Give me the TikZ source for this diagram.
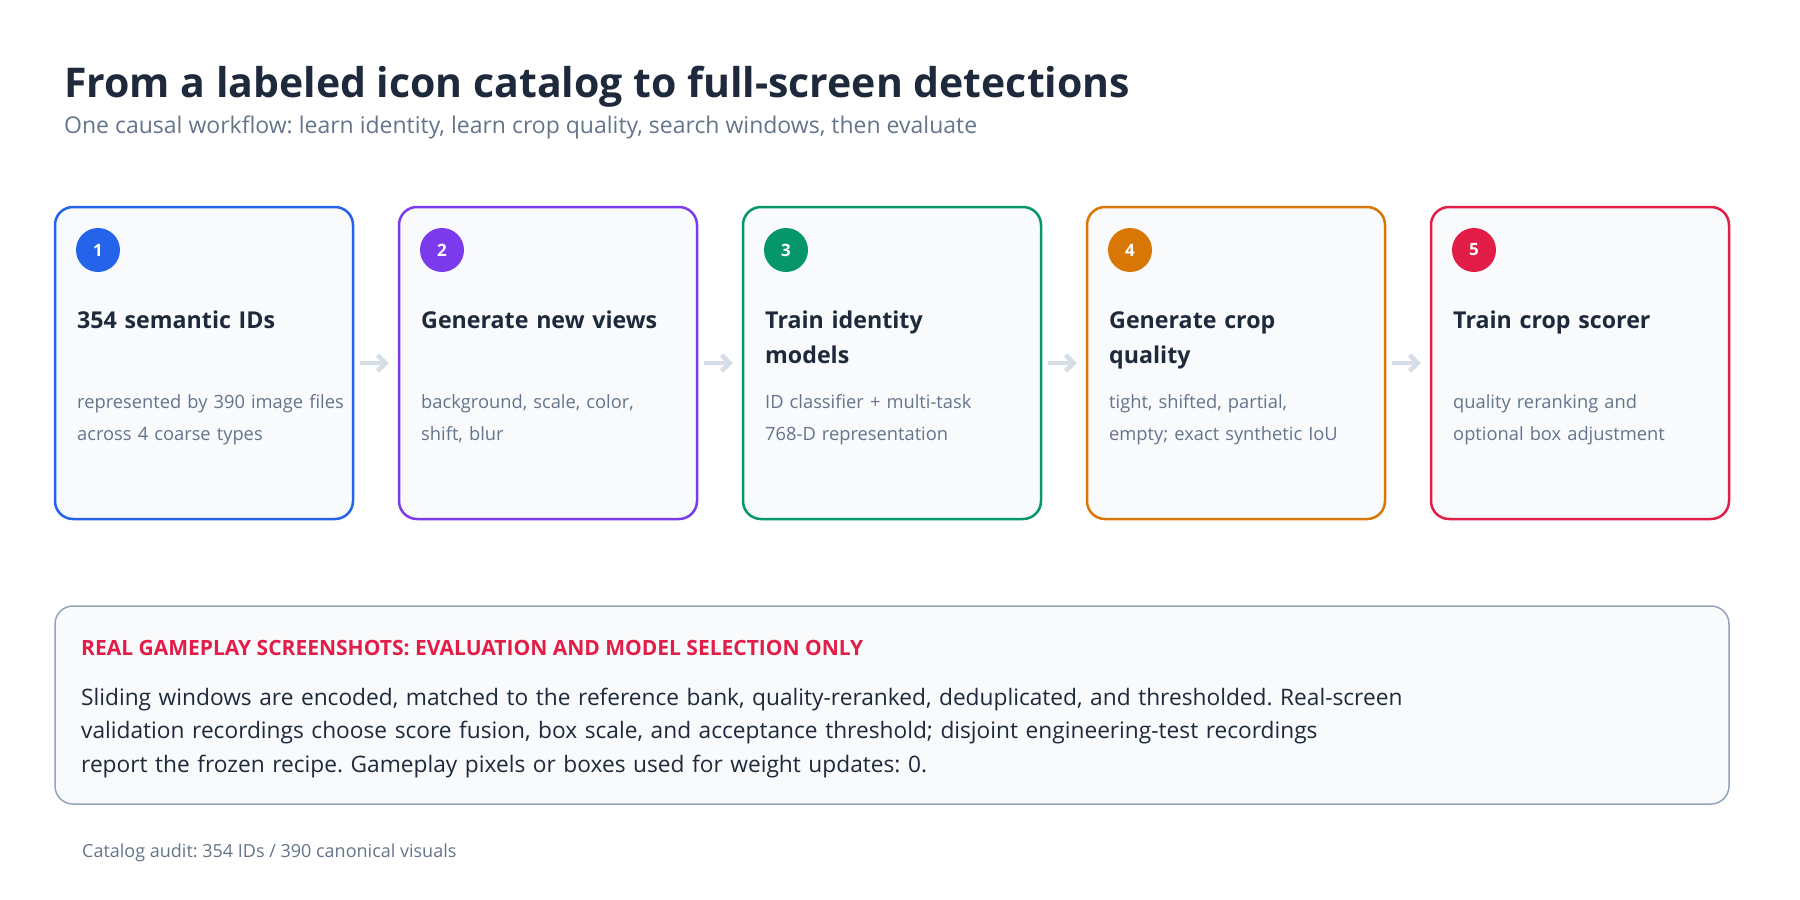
\documentclass[tikz,border=0pt]{standalone}
\usepackage{fontspec}
\setmainfont{Open Sans}
\usetikzlibrary{arrows.meta}
\frenchspacing

\definecolor{ink}{HTML}{1E293B}
\definecolor{slate}{HTML}{64748B}
\definecolor{cardbg}{HTML}{F8FAFC}
\definecolor{edgegray}{HTML}{94A3B8}
\definecolor{arrowgray}{HTML}{D5DDE6}
\definecolor{sblue}{HTML}{2563EB}
\definecolor{spurple}{HTML}{7C3AED}
\definecolor{sgreen}{HTML}{059669}
\definecolor{sorange}{HTML}{D97706}
\definecolor{sred}{HTML}{E11D48}

\tikzset{
	card/.style={draw, line width=2.5, fill=cardbg, rounded corners=18, minimum width=298, minimum height=312, inner sep=0},
	badge/.style={circle, minimum size=44, inner sep=0, text=white, font=\fontsize{17}{17}\selectfont\bfseries},
	cardtitle/.style={anchor=base west, inner sep=0, text=ink, align=left, text width=270pt, font=\fontsize{23.2}{35}\selectfont\bfseries},
	carddesc/.style={anchor=base west, inner sep=0, text=slate, align=left, text width=290pt, font=\fontsize{18.3}{32}\selectfont},
	flow/.style={draw=arrowgray, line width=4.5, -{Straight Barb[length=8, width=16]}, shorten <=6, shorten >=9},
}

\begin{document}
\begin{tikzpicture}[x=1pt, y=-1pt]
	\useasboundingbox (0,0) rectangle (1800,900);
	
	\node[anchor=base west, inner sep=0, text=ink, font=\fontsize{41}{41}\selectfont\bfseries] (title) at (64,97) {From a labeled icon catalog to full-screen detections};
	\node[anchor=base west, inner sep=0, text=slate, font=\fontsize{23}{23}\selectfont] (subtitle) at (64,133) {One causal workflow: learn identity, learn crop quality, search windows, then evaluate};
	
	% workflow cards
	\node[card, draw=sblue] (card1) at (204,363) {};
	\node[card, draw=spurple] (card2) at (548,363) {};
	\node[card, draw=sgreen] (card3) at (892,363) {};
	\node[card, draw=sorange] (card4) at (1236,363) {};
	\node[card, draw=sred] (card5) at (1580,363) {};
	
	\node[badge, fill=sblue] (num1) at (98,250) {1};
	\node[badge, fill=spurple] (num2) at (442,250) {2};
	\node[badge, fill=sgreen] (num3) at (786,250) {3};
	\node[badge, fill=sorange] (num4) at (1130,250) {4};
	\node[badge, fill=sred] (num5) at (1474,250) {5};
	
	\node[cardtitle] (head1) at (77,328) {354 semantic IDs};
	\node[cardtitle] (head2) at (421,328) {Generate new views};
	\node[cardtitle] (head3) at (765,328) {Train identity\\models};
	\node[cardtitle] (head4) at (1109,328) {Generate crop\\quality};
	\node[cardtitle] (head5) at (1453,328) {Train crop scorer};
	
	\node[carddesc] (desc1) at (77,408) {represented by 390 image files\\across 4 coarse types};
	\node[carddesc] (desc2) at (421,408) {background, scale, color,\\shift, blur};
	\node[carddesc] (desc3) at (765,408) {ID classifier + multi-task\\768-D representation};
	\node[carddesc] (desc4) at (1109,408) {tight, shifted, partial,\\empty; exact synthetic IoU};
	\node[carddesc] (desc5) at (1453,408) {quality reranking and\\optional box adjustment};
	
	\draw[flow] (card1) -- (card2);
	\draw[flow] (card2) -- (card3);
	\draw[flow] (card3) -- (card4);
	\draw[flow] (card4) -- (card5);
	
	% evaluation panel
	\node[draw=edgegray, line width=1.5, fill=cardbg, rounded corners=18, minimum width=1674, minimum height=198, inner sep=0] (evalbox) at (892,705) {};
	\node[anchor=base west, inner sep=0, text=sred, font=\fontsize{21}{21}\selectfont\bfseries] (evalhead) at (81,655) {REAL GAMEPLAY SCREENSHOTS: EVALUATION AND MODEL SELECTION ONLY};
	\node[anchor=base west, inner sep=0, text=ink, align=left, text width=1620pt, font=\fontsize{22.7}{33.5}\selectfont] (evaltext) at (81,705) {Sliding windows are encoded, matched to the reference bank, quality-reranked, deduplicated, and thresholded. Real-screen\\validation recordings choose score fusion, box scale, and acceptance threshold; disjoint engineering-test recordings\\report the frozen recipe. Gameplay pixels or boxes used for weight updates: 0.};
	
	\node[anchor=base west, inner sep=0, text=slate, font=\fontsize{18}{18}\selectfont] (audit) at (82,857) {Catalog audit: 354 IDs / 390 canonical visuals};
\end{tikzpicture}
\end{document}
